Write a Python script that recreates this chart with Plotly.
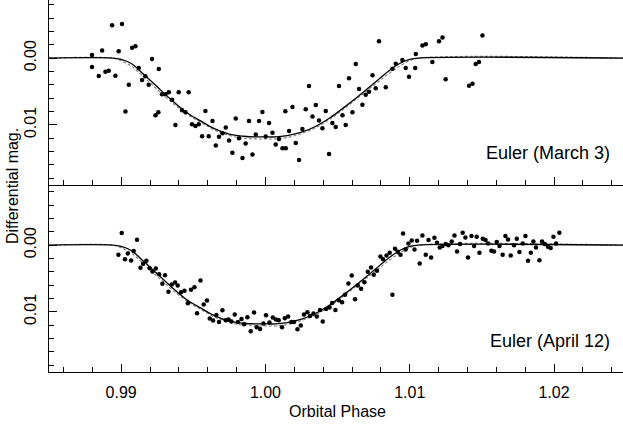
import plotly.graph_objects as go

# ---------------- data ----------------
march_phase = [0.98798, 0.98798, 0.98845, 0.98868, 0.98891, 0.98914, 0.98937, 0.98960, 0.98983, 0.99006,
               0.99030, 0.99053, 0.99076, 0.99099, 0.99122, 0.99145, 0.99168, 0.99191, 0.99214, 0.99238,
               0.99261, 0.99258, 0.99283, 0.99307, 0.99330, 0.99353, 0.99376, 0.99399, 0.99422, 0.99446,
               0.99468, 0.99491, 0.99515, 0.99538, 0.99561, 0.99584, 0.99607, 0.99633, 0.99656, 0.99678,
               0.99702, 0.99725, 0.99748, 0.99771, 0.99794, 0.99817, 0.99841, 0.99863, 0.99886, 0.99910,
               0.99933, 0.99956, 0.99979, 1.00002, 1.00025, 1.00049, 1.00071, 1.00094, 1.00118, 1.00141,
               1.00138, 1.00164, 1.00187, 1.00210, 1.00233, 1.00256, 1.00279, 1.00302, 1.00326, 1.00349,
               1.00371, 1.00395, 1.00418, 1.00441, 1.00464, 1.00487, 1.00510, 1.00534, 1.00556, 1.00579,
               1.00603, 1.00626, 1.00649, 1.00672, 1.00695, 1.00718, 1.00742, 1.00764, 1.00787, 1.00834,
               1.00880, 1.00903, 1.00949, 1.00972, 1.00995, 1.01042, 1.01038, 1.01088, 1.01111, 1.01157,
               1.01203, 1.01227, 1.01249, 1.01411, 1.01435, 1.01457, 1.01480, 1.01504]
march_mag = [-0.00045, 0.00134, 0.00269, -0.00115, 0.00204, 0.00190, -0.00493, 0.00264, -0.00104, -0.00512,
             0.00801, 0.00399, -0.00154, -0.00179, 0.00149, 0.00328, 0.00273, 0.00399, 0.00015, 0.00855,
             0.00164, 0.00810, 0.00542, 0.00542, 0.00512, 0.00622, 0.01000, 0.00512, 0.00781, 0.00810,
             0.00512, 0.00990, 0.01015, 0.00990, 0.01169, 0.00791, 0.01169, 0.00940, 0.01309, 0.01179,
             0.01124, 0.01040, 0.01234, 0.01418, 0.00906, 0.01199, 0.01497, 0.01279, 0.00940, 0.01443,
             0.01145, 0.00940, 0.00806, 0.01175, 0.00970, 0.01119, 0.01294, 0.01213, 0.01348, 0.01348,
             0.00796, 0.01090, 0.00731, 0.01273, 0.01527, 0.01060, 0.00766, 0.00418, 0.00876, 0.00701,
             0.00936, 0.01049, 0.00791, 0.01437, 0.00970, 0.01030, 0.00418, 0.00855, 0.01000, 0.00303,
             0.00810, 0.00090, 0.00463, 0.00697, 0.00548, 0.00503, 0.00258, 0.00452, -0.00254, 0.00437,
             0.00160, 0.00085, 0.00030, 0.00149, 0.00279, -0.00060, 0.00149, -0.00190, -0.00209, 0.00060,
             -0.00254, -0.00309, 0.00318, 0.00413, 0.00384, 0.00090, 0.00060, -0.00339]

april_phase = [0.98981, 0.99004, 0.99027, 0.99046, 0.99069, 0.99087, 0.99110, 0.99134, 0.99152, 0.99175,
               0.99198, 0.99217, 0.99240, 0.99263, 0.99286, 0.99304, 0.99328, 0.99351, 0.99374, 0.99392,
               0.99415, 0.99439, 0.99462, 0.99484, 0.99508, 0.99526, 0.99550, 0.99572, 0.99595, 0.99614,
               0.99637, 0.99660, 0.99678, 0.99702, 0.99725, 0.99744, 0.99764, 0.99787, 0.99810, 0.99834,
               0.99852, 0.99875, 0.99898, 0.99921, 0.99940, 0.99963, 0.99986, 1.00004, 1.00028, 1.00051,
               1.00073, 1.00092, 1.00115, 1.00134, 1.00157, 1.00180, 1.00198, 1.00222, 1.00245, 1.00267,
               1.00291, 1.00309, 1.00333, 1.00356, 1.00378, 1.00397, 1.00420, 1.00444, 1.00462, 1.00485,
               1.00508, 1.00531, 1.00552, 1.00575, 1.00598, 1.00621, 1.00640, 1.00663, 1.00686, 1.00709,
               1.00732, 1.00751, 1.00773, 1.00797, 1.00815, 1.00839, 1.00861, 1.00880, 1.00898, 1.00917,
               1.00936, 1.00954, 1.00972, 1.00991, 1.01014, 1.01033, 1.01051, 1.01069, 1.01088, 1.01111,
               1.01130, 1.01148, 1.01171, 1.01189, 1.01208, 1.01227, 1.01249, 1.01268, 1.01291, 1.01310,
               1.01328, 1.01349, 1.01367, 1.01386, 1.01404, 1.01428, 1.01446, 1.01464, 1.01483, 1.01506,
               1.01525, 1.01543, 1.01566, 1.01584, 1.01603, 1.01622, 1.01644, 1.01663, 1.01681, 1.01700,
               1.01723, 1.01742, 1.01760, 1.01783, 1.01802, 1.01820, 1.01839, 1.01857, 1.01875, 1.01899,
               1.01917, 1.01936, 1.01958, 1.01977, 1.01996, 1.02014, 1.02037]
april_mag = [0.00145, -0.00180, 0.00210, 0.00124, 0.00229, 0.00090, -0.00079, 0.00340, 0.00280, 0.00235,
             0.00345, 0.00394, 0.00349, 0.00435, 0.00580, 0.00450, 0.00700, 0.00589, 0.00559, 0.00604,
             0.00705, 0.00685, 0.00870, 0.00670, 0.00630, 0.01019, 0.00529, 0.00889, 0.00829, 0.01099,
             0.01129, 0.01045, 0.01150, 0.00975, 0.01124, 0.01114, 0.01144, 0.01039, 0.01150, 0.01105,
             0.01184, 0.01079, 0.01289, 0.01009, 0.01229, 0.01255, 0.01174, 0.01049, 0.01159, 0.01084,
             0.01114, 0.01124, 0.01229, 0.01094, 0.01069, 0.01150, 0.01150, 0.01259, 0.01204, 0.01039,
             0.01004, 0.01060, 0.01024, 0.01069, 0.00970, 0.01144, 0.00955, 0.00934, 0.00865, 0.00970,
             0.00825, 0.00855, 0.00745, 0.00574, 0.00454, 0.00810, 0.00604, 0.00655, 0.00555, 0.00400,
             0.00334, 0.00445, 0.00385, 0.00169, 0.00210, 0.00154, 0.00115, 0.00745, 0.00055, 0.00100,
             0.00145, -0.00175, 0.00064, -0.00025, -0.00070, 0.00064, -0.00064, 0.00274, -0.00145, 0.00145,
             -0.00075, 0.00184, -0.00109, -0.00034, 0.00034, 0.00015, -0.00015, 0.00004, -0.00055, -0.00145,
             0.00094, -0.00015, -0.00184, -0.00115, 0.00184, -0.00135, 0.00015, -0.00124, 0.00115, -0.00094,
             -0.00075, -0.00025, 0.00085, 0.00094, -0.00045, 0.00015, 0.00145, -0.00135, -0.00085, 0.00154,
             0.00004, -0.00094, 0.00105, -0.00025, -0.00135, 0.00235, 0.00115, -0.00055, 0.00034, 0.00225,
             -0.00055, -0.00015, 0.00025, 0.00045, -0.00124, -0.00025, -0.00184]

model_phase = [0.9850, 0.9894, 0.9900, 0.9907, 0.9915, 0.9925, 0.9935, 0.9945, 0.9955, 0.9965,
               0.9975, 0.9985, 0.9993, 1.0000, 1.0007, 1.0015, 1.0025, 1.0035, 1.0045, 1.0055,
               1.0065, 1.0075, 1.0085, 1.0093, 1.0100, 1.0106, 1.0250]
model_solid = [0.0, 0.0, 0.0002, 0.0008, 0.0023, 0.0043, 0.0063, 0.0081, 0.0094, 0.0106,
               0.0114, 0.0117, 0.0118, 0.0118, 0.0118, 0.0116, 0.0111, 0.0102, 0.0089, 0.0073,
               0.0056, 0.0038, 0.0020, 0.0008, 0.0002, 0.0, 0.0]
model_dashed = [0.0, 0.0, 0.0004, 0.0012, 0.0027, 0.0047, 0.0066, 0.0083, 0.0096, 0.0108,
                0.0116, 0.0120, 0.0121, 0.0121, 0.0121, 0.0119, 0.0113, 0.0104, 0.0091, 0.0075,
                0.0058, 0.0041, 0.0024, 0.0012, 0.0004, 0.0, 0.0]

x_ticks = [0.99, 1.00, 1.01, 1.02]
x_ticklabels = ["0.99", "1.00", "1.01", "1.02"]
y_ticks = [0.00, 0.01]
y_ticklabels = ["0.00", "0.01"]
panel_labels = ["Euler (March 3)", "Euler (April 12)"]

# ---------------- figure ----------------
FONT = dict(family="Liberation Sans, Arial, sans-serif", size=16, color="black")
W, H = 623, 432
ML, MB = 49, 60
XR = [0.985, 1.02478]

fig = go.Figure()

def add_panel(xa, ya, phase, mag):
    fig.add_trace(go.Scatter(x=model_phase, y=model_dashed, xaxis=xa, yaxis=ya, mode="lines",
                             line=dict(color="#808080", width=1.1, dash="3px,2px", shape="spline"),
                             showlegend=False, hoverinfo="skip"))
    fig.add_trace(go.Scatter(x=model_phase, y=model_solid, xaxis=xa, yaxis=ya, mode="lines",
                             line=dict(color="black", width=1.3, shape="spline"),
                             showlegend=False, hoverinfo="skip"))
    fig.add_trace(go.Scatter(x=phase, y=mag, xaxis=xa, yaxis=ya, mode="markers",
                             marker=dict(color="black", size=4.5, line=dict(width=0)),
                             showlegend=False))

add_panel("x", "y", april_phase, april_mag)
add_panel("x2", "y2", march_phase, march_mag)

minor_x = dict(ticks="inside", ticklen=4.5, dtick=0.002, tick0=0, tickcolor="black", tickwidth=1, showgrid=False)
minor_y = dict(ticks="inside", ticklen=4.5, dtick=0.002, tick0=0, tickcolor="black", tickwidth=1, showgrid=False)

xcommon = dict(range=XR, tickmode="array", tickvals=x_ticks, ticks="inside", ticklen=8,
               tickwidth=1, tickcolor="black", showgrid=False, zeroline=False, automargin=False,
               linecolor="black", linewidth=1.3, minor=minor_x, tickfont=FONT)
ycommon = dict(tickmode="array", tickvals=y_ticks, ticktext=y_ticklabels, ticks="inside", ticklen=7.5,
               tickwidth=1, tickcolor="black", showgrid=False, zeroline=False, automargin=False,
               linecolor="black", linewidth=1.3, minor=minor_y, tickfont=FONT, tickangle=-90)

split = 187 / 372.0

fig.update_layout(
    width=W, height=H,
    margin=dict(l=ML, r=0, t=0, b=MB, pad=0),
    paper_bgcolor="white", plot_bgcolor="white",
    font=FONT,
    xaxis=dict(xcommon, anchor="y", showline=True, showticklabels=True, ticktext=x_ticklabels,
               ticklabelstandoff=6),
    xaxis2=dict(xcommon, anchor="y2", showline=True, showticklabels=False),
    xaxis3=dict(xcommon, anchor="y", overlaying="x", side="top", showline=True, showticklabels=False),
    xaxis4=dict(xcommon, anchor="y2", overlaying="x2", side="top", showline=False, showticklabels=False),
    yaxis=dict(ycommon, domain=[0, split], range=[0.019, -0.009], anchor="x", showline=True,
               showticklabels=True, ticklabelstandoff=5),
    yaxis2=dict(ycommon, domain=[split, 1], range=[0.019, -0.0087], anchor="x2", showline=True,
                showticklabels=True, ticklabelstandoff=5),
    yaxis3=dict(ycommon, domain=[0, split], range=[0.019, -0.009], anchor="x", overlaying="y",
                side="right", showline=False, showticklabels=False),
    yaxis4=dict(ycommon, domain=[split, 1], range=[0.019, -0.0087], anchor="x2", overlaying="y2",
                side="right", showline=False, showticklabels=False),
)

pw = W - ML
ph = H - MB
fig.add_annotation(text="Differential mag.", textangle=-90, xref="paper", yref="paper",
                   x=(12 - ML) / pw, y=(ph - 186) / ph, xanchor="center", yanchor="middle",
                   showarrow=False, font=FONT)
fig.add_annotation(text="Orbital Phase", xref="paper", yref="paper",
                   x=(337 - ML) / pw, y=(ph - 412) / ph, xanchor="center", yanchor="middle",
                   showarrow=False, font=FONT)
fig.add_annotation(text=panel_labels[0], xref="paper", yref="paper",
                   x=(612 - ML) / pw, y=(ph - 153) / ph, xanchor="right", yanchor="middle",
                   showarrow=False, font=dict(FONT, size=18))
fig.add_annotation(text=panel_labels[1], xref="paper", yref="paper",
                   x=(612 - ML) / pw, y=(ph - 341) / ph, xanchor="right", yanchor="middle",
                   showarrow=False, font=dict(FONT, size=18))

fig.write_html("out.html", config={"displayModeBar": False},
               post_script="document.body.style.margin='0px';")
